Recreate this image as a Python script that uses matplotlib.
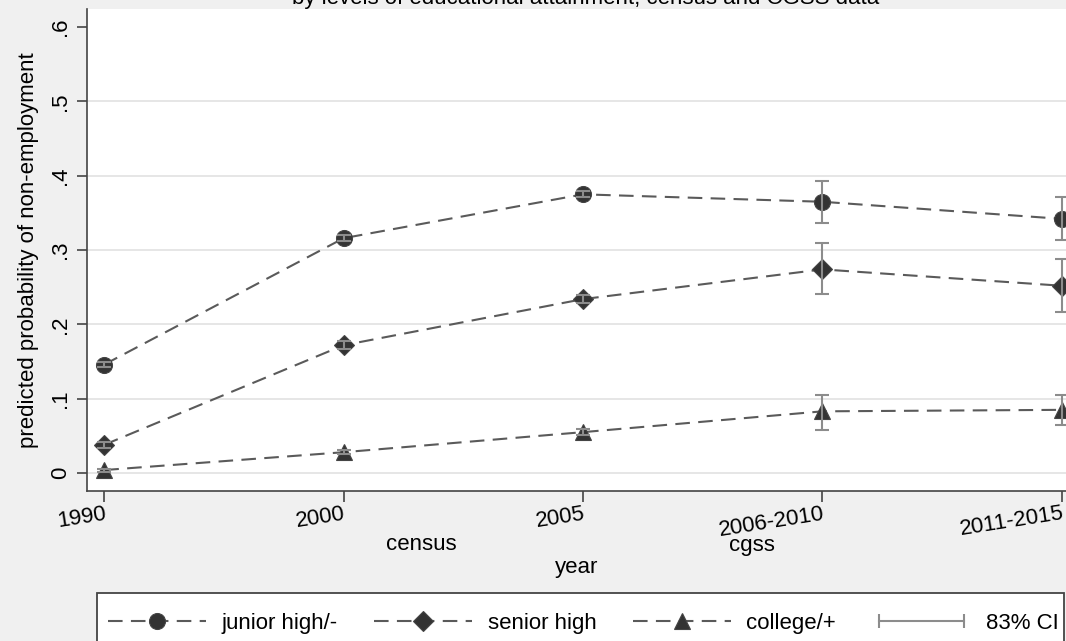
import matplotlib
matplotlib.use("Agg")
import matplotlib.pyplot as plt
from matplotlib.lines import Line2D
from matplotlib.patches import Rectangle
from matplotlib.legend_handler import HandlerLine2D

plt.rcParams['font.family'] = ['Liberation Sans', 'DejaVu Sans']

# survey periods and predicted probabilities (with 83% CI bounds)
years = ['1990', '2000', '2005', '2006-2010', '2011-2015']
junior = [0.146, 0.316, 0.375, 0.365, 0.342]
junior_lo = [0.142, 0.312, 0.371, 0.337, 0.314]
junior_hi = [0.150, 0.320, 0.379, 0.393, 0.372]
senior = [0.038, 0.172, 0.234, 0.274, 0.252]
senior_lo = [0.034, 0.167, 0.229, 0.241, 0.216]
senior_hi = [0.042, 0.177, 0.239, 0.309, 0.288]
college = [0.004, 0.028, 0.055, 0.083, 0.085]
college_lo = [0.002, 0.025, 0.051, 0.058, 0.065]
college_hi = [0.006, 0.031, 0.059, 0.105, 0.105]
yticks = [0, 0.1, 0.2, 0.3, 0.4, 0.5, 0.6]
ytick_labels = ['0', '.1', '.2', '.3', '.4', '.5', '.6']

W, H = 1066, 641
bg = '#f0f0f0'
line_col = '#5a5a5a'
mark_col = '#333333'
ci_col = '#8c8c8c'
fs = 16

fig = plt.figure(figsize=(W / 100, H / 100), dpi=100, facecolor=bg)
ax = fig.add_axes([86.7 / W, 1 - 490.7 / H, (1067 - 86.7) / W, (490.7 - 9.3) / H])
ax.set_facecolor('white')

x = list(range(len(years)))
series = [(junior, junior_lo, junior_hi, 'o', 11.5, 'junior high/-'),
          (senior, senior_lo, senior_hi, 'D', 10.5, 'senior high'),
          (college, college_lo, college_hi, '^', 12, 'college/+')]

handles = []
for vals, lo, hi, mk, ms, lab in series:
    h, = ax.plot(x, vals, color=line_col, lw=1.5, dashes=(7, 4),
                 marker=mk, ms=ms, mfc=mark_col, mec='#444444', mew=0.8,
                 label=lab, zorder=3)
    handles.append(h)
    yerr = [[v - l for v, l in zip(vals, lo)], [u - v for v, u in zip(vals, hi)]]
    ax.errorbar(x, vals, yerr=yerr, fmt='none', ecolor=ci_col, elinewidth=1.5,
                capsize=5, capthick=1.5, zorder=4)

ax.set_xlim(-0.0735, 4.022)
ax.set_ylim(-0.0238, 0.624)

ax.set_yticks(yticks)
ax.set_yticklabels(ytick_labels, rotation=90, va='center', fontsize=fs)
ax.set_xticks(x)
ax.set_xticklabels(years, rotation=9, ha='right', va='top',
                   rotation_mode='anchor', fontsize=fs)
ax.tick_params(axis='x', length=8, width=1.2, color='#444444', pad=1)
ax.tick_params(axis='y', length=7.5, width=1.2, color='#444444', pad=4)

ax.yaxis.grid(True, color='#e4e4e4', lw=1.3)
ax.get_ygridlines()[-1].set_visible(False)
ax.set_axisbelow(True)

for s in ['top', 'right']:
    ax.spines[s].set_visible(False)
for s in ['left', 'bottom']:
    ax.spines[s].set_color('#444444')
    ax.spines[s].set_linewidth(1.2)

ax.set_ylabel('predicted probability of non-employment', fontsize=fs)
ax.yaxis.set_label_coords(-0.049, 0.5)

fig.text(421 / W, 1 - 545 / H, 'census', ha='center', va='center', fontsize=fs)
fig.text(752 / W, 1 - 545 / H, 'cgss', ha='center', va='center', fontsize=fs)
fig.text(577 / W, 1 - 568 / H, 'year', ha='center', va='center', fontsize=fs)

# title sits mostly above the cropped top edge
fig.text(586 / W, 1 - 4 / H, 'by levels of educational attainment, census and CGSS data',
         ha='center', va='baseline', fontsize=fs)

# legend box, cut by the bottom edge of the image
fig.patches.append(Rectangle((97 / W, 1 - 680 / H), (1064 - 97) / W, (680 - 593.3) / H,
                             transform=fig.transFigure, facecolor='white',
                             edgecolor='#444444', lw=1.3, zorder=0))

ci_handle = Line2D([0], [0], color=ci_col, lw=1.5, marker='|', ms=10, mew=1.5)
handles.append(ci_handle)
leg = fig.legend(handles=handles, labels=[h.get_label() for h in handles[:3]] + ['83% CI'],
                 loc='upper left', bbox_to_anchor=(97 / W, 1 - 602 / H),
                 ncol=4, fontsize=fs, handlelength=4.4, handletextpad=0.7,
                 columnspacing=1.65, borderpad=0.5, borderaxespad=0,
                 frameon=False,
                 handler_map={ci_handle: HandlerLine2D(numpoints=2)})

fig.savefig('out.png', dpi=100, facecolor=bg)
